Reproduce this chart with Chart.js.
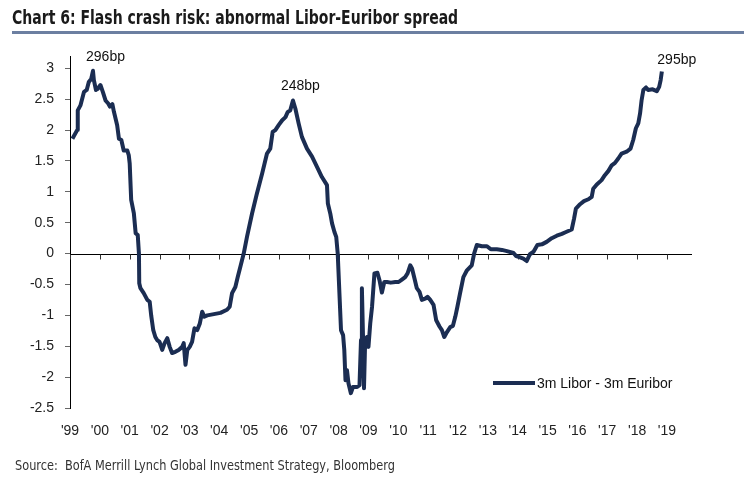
<!DOCTYPE html>
<html>
<head>
<meta charset="utf-8">
<script src="https://cdn.jsdelivr.net/npm/chart.js@4.4.1/dist/chart.umd.min.js"></script>
<style>
  html, body { margin:0; padding:0; background:#fff; }
  #wrap { position:relative; width:744px; height:484px; overflow:hidden; }
  #chart { position:absolute; left:0; top:0; }
  .title { position:absolute; left:12px; top:6px; font:bold 19px "DejaVu Sans Condensed", sans-serif; color:#1a1a1a; white-space:nowrap; transform:scaleX(0.82); transform-origin:0 0; }
  .rule { position:absolute; left:12px; right:0; top:31px; height:3px; background:#6c7fa1; }
  .source { position:absolute; left:15px; top:457px; font:14px "DejaVu Sans Condensed", sans-serif; color:#333; white-space:nowrap; transform:scaleX(0.9); transform-origin:0 0; }
</style>
</head>
<body>
<div id="wrap">
  <canvas id="chart" width="744" height="484"></canvas>
  <div class="title">Chart 6: Flash crash risk: abnormal Libor-Euribor spread</div>
  <div class="rule"></div>
  <div class="source">Source:&nbsp; BofA Merrill Lynch Global Investment Strategy, Bloomberg</div>
</div>
<script>
/* ---------- data ---------- */
const SERIES_LABEL = "3m Libor - 3m Euribor";

// decimal years
const years = [
  1999.08,1999.24,1999.26,1999.35,1999.47,1999.56,1999.63,1999.71,1999.77,1999.80,1999.87,1999.93,
  2000.02,2000.10,2000.19,2000.28,2000.34,2000.42,2000.47,2000.58,2000.64,2000.72,2000.80,2000.92,2000.97,
  2001.00,2001.05,2001.14,2001.20,2001.27,2001.31,2001.32,2001.36,2001.47,2001.59,2001.67,2001.72,2001.79,2001.86,2001.92,
  2002.00,2002.09,2002.17,2002.26,2002.34,2002.42,2002.53,2002.64,2002.76,2002.81,2002.87,2002.93,
  2003.01,2003.09,2003.17,2003.26,2003.35,2003.43,2003.50,2003.60,2003.82,
  2004.04,2004.26,2004.35,2004.43,2004.54,2004.62,2004.71,2004.82,2004.93,
  2005.10,2005.25,2005.44,2005.60,2005.71,2005.79,2005.88,2005.99,
  2006.11,2006.22,2006.29,2006.38,2006.47,2006.55,2006.66,2006.77,2006.94,
  2007.11,2007.28,2007.44,2007.61,2007.64,2007.72,2007.78,2007.86,2007.92,2007.97,
  2008.08,2008.15,2008.19,2008.23,2008.28,2008.33,2008.41,2008.48,2008.62,2008.70,2008.75,2008.78,2008.82,2008.85,2008.89,2008.95,
  2009.00,2009.06,2009.12,2009.20,2009.30,2009.37,2009.45,2009.53,2009.62,2009.75,2009.90,
  2010.01,2010.12,2010.23,2010.31,2010.40,2010.46,2010.54,2010.62,2010.71,2010.79,2010.90,2010.98,
  2011.07,2011.18,2011.27,2011.38,2011.46,2011.54,2011.63,2011.74,2011.83,2011.91,2011.98,
  2012.07,2012.18,2012.30,2012.46,2012.54,2012.63,2012.80,2012.97,
  2013.10,2013.30,2013.47,2013.64,2013.86,2013.95,
  2014.08,2014.19,2014.30,2014.41,2014.53,2014.66,2014.81,2014.97,
  2015.14,2015.31,2015.48,2015.62,2015.81,2015.89,2015.95,
  2016.09,2016.22,2016.37,2016.48,2016.53,2016.65,2016.81,2016.92,
  2017.04,2017.15,2017.26,2017.37,2017.48,2017.65,2017.78,2017.87,2017.96,
  2018.04,2018.10,2018.15,2018.21,2018.30,2018.37,2018.52,2018.66,2018.74,2018.79,2018.83
];

// spread, percentage points
const spread = [
  1.86,2.00,2.32,2.40,2.62,2.65,2.78,2.83,2.96,2.81,2.65,2.67,
  2.73,2.62,2.48,2.43,2.38,2.42,2.30,2.08,1.86,1.84,1.67,1.67,1.59,
  1.46,0.87,0.65,0.33,0.30,0.00,-0.48,-0.56,-0.64,-0.75,-0.78,-1.00,-1.24,-1.35,-1.40,
  -1.43,-1.56,-1.45,-1.37,-1.51,-1.61,-1.59,-1.56,-1.51,-1.45,-1.80,-1.56,
  -1.51,-1.43,-1.21,-1.24,-1.13,-0.94,-1.02,-1.00,-0.98,
  -0.96,-0.91,-0.86,-0.64,-0.54,-0.38,-0.21,0.00,0.27,
  0.65,0.95,1.30,1.62,1.70,1.97,2.00,2.08,
  2.16,2.21,2.29,2.32,2.48,2.35,2.11,1.89,1.70,
  1.57,1.40,1.24,1.11,0.81,0.65,0.49,0.35,0.27,0.00,
  -1.24,-1.32,-1.56,-2.05,-1.89,-2.10,-2.26,-2.16,-2.16,-2.13,-1.40,-0.56,-1.40,-2.18,-1.40,-1.35,
  -1.51,-1.13,-0.86,-0.32,-0.31,-0.43,-0.63,-0.46,-0.46,-0.47,-0.46,
  -0.46,-0.42,-0.38,-0.32,-0.19,-0.24,-0.40,-0.56,-0.62,-0.75,-0.73,-0.70,
  -0.75,-0.83,-1.08,-1.18,-1.24,-1.35,-1.27,-1.19,-1.17,-1.02,-0.86,
  -0.64,-0.38,-0.27,-0.19,0.00,0.14,0.12,0.12,
  0.07,0.07,0.06,0.04,0.01,-0.04,
  -0.06,-0.08,-0.12,-0.01,0.03,0.14,0.15,0.19,
  0.25,0.29,0.32,0.35,0.39,0.57,0.73,
  0.80,0.85,0.88,0.92,1.05,1.12,1.19,1.27,
  1.34,1.43,1.47,1.54,1.62,1.65,1.70,1.84,2.03,
  2.11,2.27,2.48,2.65,2.69,2.65,2.66,2.63,2.70,2.81,2.95
];

// axis ticks
const yTicks = [3, 2.5, 2, 1.5, 1, 0.5, 0, -0.5, -1, -1.5, -2, -2.5];
const xTicks = [1999,2000,2001,2002,2003,2004,2005,2006,2007,2008,2009,2010,2011,2012,2013,2014,2015,2016,2017,2018,2019];

// peak call-outs
const calloutText = ["296bp", "248bp", "295bp"];
const calloutYear = [2000.19, 2006.72, 2019.33];
const calloutVal  = [3.18, 2.71, 3.135];

/* ---------- chart ---------- */
const LINE = "#1b2d52";
const FONT = "'Liberation Sans', Arial, sans-serif";

const decor = {
  id: "decor",
  beforeDatasetsDraw(chart){
    const {ctx, chartArea:a, scales:{x, y}} = chart;
    const y0 = Math.round(y.getPixelForValue(0)) + 0.5;
    ctx.save();
    ctx.strokeStyle = "#000"; ctx.lineWidth = 1;
    ctx.beginPath(); ctx.moveTo(a.left, y0); ctx.lineTo(a.right, y0); ctx.stroke();
    ctx.strokeStyle = "#333";
    xTicks.forEach(v => {
      const px = Math.round(x.getPixelForValue(v)) + 0.5;
      ctx.beginPath(); ctx.moveTo(px, y0); ctx.lineTo(px, y0 + 5); ctx.stroke();
    });
    ctx.restore();
  },
  afterDraw(chart){
    const {ctx, scales:{x, y}} = chart;
    ctx.save();
    ctx.font = "14px " + FONT;
    ctx.fillStyle = "#111";
    ctx.textAlign = "center"; ctx.textBaseline = "middle";
    calloutText.forEach((t,i) => ctx.fillText(t, x.getPixelForValue(calloutYear[i]), y.getPixelForValue(calloutVal[i])));
    // legend
    const ds = chart.data.datasets[0];
    ctx.strokeStyle = ds.borderColor; ctx.lineWidth = 4;
    ctx.beginPath(); ctx.moveTo(493, 383); ctx.lineTo(535, 383); ctx.stroke();
    ctx.textAlign = "left";
    ctx.fillText(ds.label, 537, 384);
    ctx.restore();
  }
};

new Chart(document.getElementById("chart"), {
  type: "line",
  data: {
    datasets: [{
      label: SERIES_LABEL,
      data: years.map((yr,i) => ({x: yr, y: spread[i]})),
      borderColor: LINE,
      borderWidth: 4,
      pointRadius: 0,
      tension: 0,
      borderJoinStyle: "round",
      fill: false
    }]
  },
  options: {
    responsive: false,
    animation: false,
    devicePixelRatio: 1,
    layout: { padding: { left: 0, right: 52, top: 56, bottom: 46 } },
    plugins: { legend: { display: false }, tooltip: { enabled: false } },
    scales: {
      x: {
        type: "linear",
        min: 1999, max: 2019.84,
        afterBuildTicks: s => { s.ticks = xTicks.map(v => ({value: v})); },
        afterFit: s => { s.height = 30; },
        grid: { display: false },
        border: { display: false },
        ticks: {
          autoSkip: false, maxRotation: 0, padding: 7,
          color: "#222", font: { family: FONT, size: 14 },
          callback: v => "'" + String(v).slice(2)
        }
      },
      y: {
        min: -2.5, max: 3.2,
        afterBuildTicks: s => { s.ticks = yTicks.map(v => ({value: v})); },
        afterFit: s => { s.width = 70; },
        grid: { drawOnChartArea: false, drawTicks: true, tickLength: 5, color: "#666" },
        border: { display: true, color: "#000", width: 1 },
        ticks: {
          padding: 11, color: "#222", font: { family: FONT, size: 14 },
          callback: v => String(v)
        }
      }
    }
  },
  plugins: [decor]
});
</script>
</body>
</html>
